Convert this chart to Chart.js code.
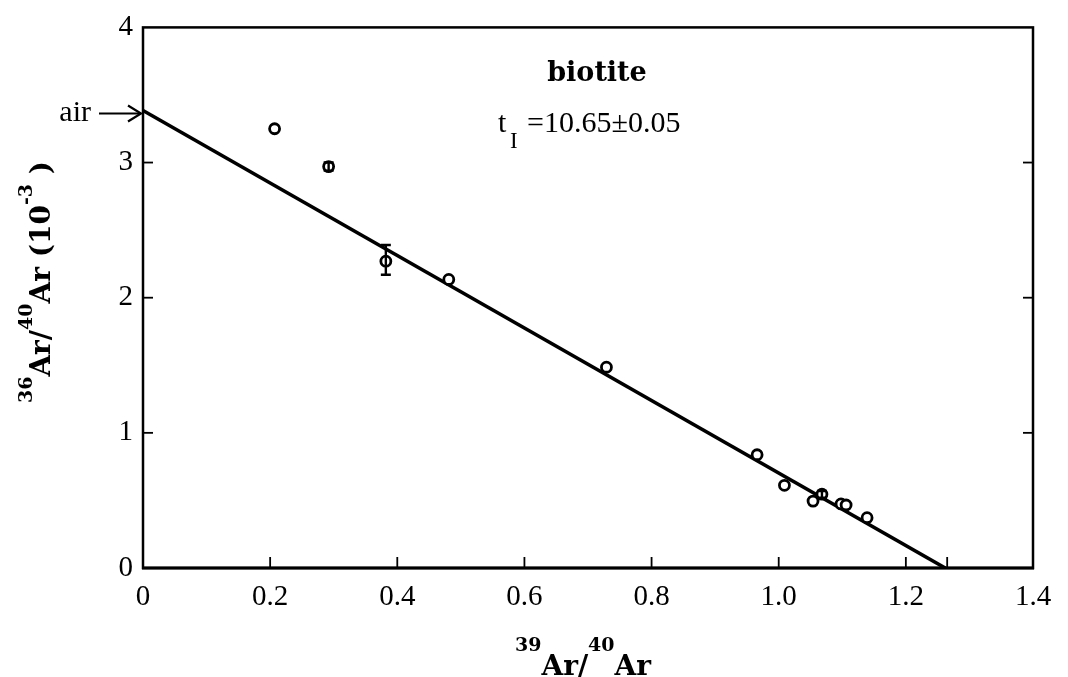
<!DOCTYPE html>
<html>
<head>
<meta charset="utf-8">
<script src="https://cdn.jsdelivr.net/npm/chart.js@4.4.1/dist/chart.umd.min.js"></script>
<style>
html,body{margin:0;padding:0;background:#fff;}
#wrap{width:1068px;height:677px;position:relative;}
</style>
</head>
<body>
<div id="wrap"><canvas id="c" width="1068" height="677"></canvas></div>
<script>
// ---- data ----
const ratio39 = [0.207, 0.292, 0.382, 0.481, 0.729, 0.966, 1.009, 1.054, 1.068, 1.098, 1.106, 1.139];
const ratio36 = [3.25, 2.97, 2.27, 2.135, 1.486, 0.838, 0.612, 0.495, 0.546, 0.474, 0.466, 0.372];
const errLow  = [null, 2.94, 2.17, null, null, null, null, null, 0.52, null, null, null];
const errHigh = [null, 3.00, 2.39, null, null, null, null, null, 0.57, null, null, null];
const fitX = [0, 1.262];
const fitY = [3.385, 0];
const airValue = 3.385;
const interceptTick = [1.265];
const xTickValues = [0, 0.2, 0.4, 0.6, 0.8, 1.0, 1.2, 1.4];
const xTickLabels = ['0', '0.2', '0.4', '0.6', '0.8', '1.0', '1.2', '1.4'];
const yTickValues = [0, 1, 2, 3, 4];
const yTickLabels = ['0', '1', '2', '3', '4'];
const mineral = 'biotite';
const ageMain = 't';
const ageSub = 'I';
const ageValue = '=10.65\u00B10.05';

const SERIF = '"Liberation Serif", "DejaVu Serif", serif';
const BOLD = '"DejaVu Serif", serif';

const framePlugin = {
  id: 'frame',
  afterDatasetsDraw(chart) {
    const ctx = chart.ctx, a = chart.chartArea;
    const xs = chart.scales.x, ys = chart.scales.y;
    ctx.save();
    ctx.strokeStyle = '#000';
    ctx.lineWidth = 2.5;
    ctx.strokeRect(a.left, a.top, a.right - a.left, a.bottom - a.top);
    ctx.lineWidth = 3.2;
    ctx.beginPath(); ctx.moveTo(a.left - 1, a.bottom); ctx.lineTo(a.right + 1, a.bottom); ctx.stroke();
    ctx.lineWidth = 1.8;
    // inward ticks
    xTickValues.slice(1, -1).concat(interceptTick).forEach(v => {
      const px = xs.getPixelForValue(v);
      ctx.beginPath(); ctx.moveTo(px, a.bottom); ctx.lineTo(px, a.bottom - 11); ctx.stroke();
    });
    yTickValues.slice(1, -1).forEach(v => {
      const py = ys.getPixelForValue(v);
      ctx.beginPath(); ctx.moveTo(a.left, py); ctx.lineTo(a.left + 10, py); ctx.stroke();
      ctx.beginPath(); ctx.moveTo(a.right, py); ctx.lineTo(a.right - 10, py); ctx.stroke();
    });
    // error bars
    ctx.lineWidth = 2.4;
    ratio39.forEach((x, i) => {
      if (errLow[i] == null) return;
      const px = xs.getPixelForValue(x);
      const lo = ys.getPixelForValue(errLow[i]), hi = ys.getPixelForValue(errHigh[i]);
      ctx.beginPath(); ctx.moveTo(px, lo); ctx.lineTo(px, hi);
      ctx.moveTo(px - 5, lo); ctx.lineTo(px + 5, lo);
      ctx.moveTo(px - 5, hi); ctx.lineTo(px + 5, hi);
      ctx.stroke();
    });
    ctx.restore();
  },
  afterDraw(chart) {
    const ctx = chart.ctx, a = chart.chartArea;
    const ys = chart.scales.y;
    ctx.save();
    ctx.fillStyle = '#000'; ctx.strokeStyle = '#000';
    // air arrow
    const ay = ys.getPixelForValue(airValue) + 3;
    ctx.font = '30px ' + SERIF;
    ctx.textBaseline = 'alphabetic';
    ctx.textAlign = 'right';
    ctx.fillText('air', 91, ay + 7);
    ctx.lineWidth = 2.2;
    ctx.beginPath(); ctx.moveTo(99, ay); ctx.lineTo(a.left - 2, ay); ctx.stroke();
    ctx.beginPath(); ctx.moveTo(a.left - 15, ay - 8); ctx.lineTo(a.left - 2, ay); ctx.lineTo(a.left - 15, ay + 8); ctx.stroke();
    // annotation
    ctx.textAlign = 'center';
    ctx.font = 'bold 27px ' + BOLD;
    ctx.fillText(mineral, 597, 81);
    ctx.textAlign = 'left';
    ctx.font = '30px ' + SERIF;
    ctx.fillText(ageMain, 498, 132);
    ctx.font = '23px ' + SERIF;
    ctx.fillText(ageSub, 510, 148);
    ctx.font = '30px ' + SERIF;
    ctx.fillText(ageValue, 527, 132);
    // x title
    drawRich(ctx, [['39', true], ['Ar/', false], ['40', true], ['Ar', false]], 583, 675, 0, 24);
    // y title
    ctx.translate(50, 282);
    ctx.rotate(-Math.PI / 2);
    drawRich(ctx, [['36', true], ['Ar/', false], ['40', true], ['Ar (10', false], ['-3', true], [' )', false]], 0, 0, 0, 18);
    ctx.restore();
  }
};

function drawRich(ctx, parts, cx, baseY, _u, raise) {
  const mainF = 'bold 28px ' + BOLD, supF = 'bold 19px ' + BOLD;
  let total = 0;
  parts.forEach(p => { ctx.font = p[1] ? supF : mainF; total += ctx.measureText(p[0]).width; });
  let x = cx - total / 2;
  ctx.textAlign = 'left';
  ctx.textBaseline = 'alphabetic';
  parts.forEach(p => {
    ctx.font = p[1] ? supF : mainF;
    ctx.fillText(p[0], x, baseY - (p[1] ? raise : 0));
    x += ctx.measureText(p[0]).width;
  });
}

new Chart(document.getElementById('c'), {
  type: 'scatter',
  data: {
    datasets: [
      {
        label: 'samples',
        data: ratio39.map((x, i) => ({ x: x, y: ratio36[i] })),
        pointStyle: 'circle',
        pointRadius: 5,
        pointBorderWidth: 2.8,
        pointBackgroundColor: '#fff',
        pointBorderColor: '#000',
        order: 0
      },
      {
        label: 'fit',
        data: fitX.map((x, i) => ({ x: x, y: fitY[i] })),
        showLine: true,
        borderColor: '#000',
        borderWidth: 3.6,
        pointRadius: 0,
        order: 1
      }
    ]
  },
  options: {
    responsive: false,
    animation: false,
    devicePixelRatio: 1,
    layout: { padding: { left: 0, right: 35, top: 19, bottom: 0 } },
    plugins: { legend: { display: false }, tooltip: { enabled: false } },
    scales: {
      x: {
        type: 'linear', min: 0, max: 1.4,
        afterBuildTicks: s => { s.ticks = xTickValues.map(v => ({ value: v })); },
        afterFit: s => { s.height = 109; },
        grid: { display: false, drawTicks: false },
        border: { display: false },
        ticks: {
          padding: 12, color: '#000',
          font: { family: SERIF, size: 29 },
          maxRotation: 0, autoSkip: false,
          callback: (v, i) => xTickLabels[i]
        }
      },
      y: {
        type: 'linear', min: 0, max: 4,
        afterBuildTicks: s => { s.ticks = yTickValues.map(v => ({ value: v })); },
        afterFit: s => { s.width = 143; },
        grid: { display: false, drawTicks: false },
        border: { display: false },
        ticks: {
          padding: 10, color: '#000',
          font: { family: SERIF, size: 29 },
          callback: (v, i) => yTickLabels[i]
        }
      }
    }
  },
  plugins: [framePlugin]
});
</script>
</body>
</html>
